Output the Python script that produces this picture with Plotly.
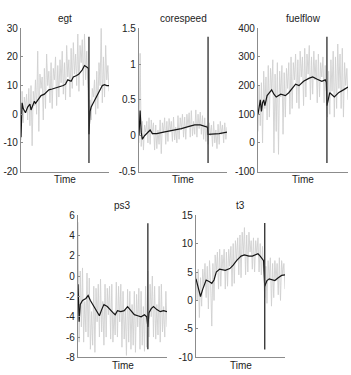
import plotly.graph_objects as go

# ---------------- data ----------------
time_idx = list(range(80))

egt_raw = [-9, 8, -3, 6, 2, 7, -2, 9, -4, 10, -11, 8, 3, 12, 0, 22, -6, 14, 9, 13,
           -2, 16, 2, 21, 10, 15, 4, 18, 2, 16, 12, 20, 3, 17, 6, 19, 11, 22, 7, 18,
           5, 24, 13, 19, 6, 23, 9, 25, 14, 21, 10, 28, 8, 24, 18, 26, 10, 28, 12, 22,
           9, -7, 5, -2, 9, 6, 12, 0, 15, 2, 18, 10, 30, 4, 20, 6, 24, 12, 17, 8]
egt_smooth_x = [0, 1, 2, 4, 6, 8, 9, 12, 13, 15, 18, 21, 25, 28, 30, 34, 38, 40, 42, 45,
                47, 50, 52, 55, 57, 59, 60.5, 61, 62, 63, 65, 67, 68, 71, 73, 75, 77, 79]
egt_smooth = [-8, 4, 2, 0.5, 2.5, 3.5, 1.5, 4.5, 3.8, 5, 6.5, 7, 8.5, 8.8, 9, 9.5, 10, 10.5, 12, 11.5,
              13, 13.5, 14, 15.5, 17, 16.5, 16, -7, 1, 2.5, 4, 5, 6, 8, 10, 10.3, 10, 10]

cs_raw = [-0.1, 1.15, -0.15, 0.2, -0.2, 0.15, 0.05, 0.2, -0.1, 0.25,
          -0.12, 0.22, 0.02, 0.18, -0.2, 0.15, -0.18, 0.08, -0.12, 0.22,
          -0.25, 0.18, 0.04, 0.25, -0.12, 0.2, -0.08, 0.24, 0.06, 0.2,
          -0.08, 0.26, -0.06, 0.12, -0.1, 0.28, -0.05, 0.25, 0.08, 0.3,
          -0.02, 0.26, -0.05, 0.3, 0.12, 0.32, -0.02, 0.35, 0.0, 0.2,
          0.02, 0.36, -0.02, 0.3, 0.1, 0.33, 0.02, 0.28, -0.05, 0.25,
          -0.08, 0.15, -0.12, 0.18, 0.0, 0.15, -0.15, 0.2, -0.1, 0.08,
          -0.18, 0.16, -0.12, 0.2, 0.02, 0.15, -0.1, 0.18, -0.05, 0.12]
cs_smooth_x = [0, 1, 2, 3, 5, 8, 10, 12, 16, 22, 30, 38, 45, 50, 55, 58, 61.5, 62, 66, 72, 79]
cs_smooth = [0, 0.35, 0.05, -0.05, 0.0, 0.04, 0.08, 0.03, 0.03, 0.05, 0.07, 0.1, 0.13, 0.15, 0.15,
             0.14, 0.12, 0.02, 0.02, 0.03, 0.05]

ff_raw = [40, 200, 60, 210, 0, 250, 120, 230, 80, 270, 90, 260, 180, 290, -35, 240, 40, 280, -40, 250,
          160, 270, 30, 245, 90, 260, 190, 280, 100, 300, 120, 280, 220, 310, 140, 290, 120, 320, 230, 300,
          130, 330, 160, 310, 240, 340, 150, 300, 170, 320, 220, 290, 140, 310, 160, 280, 230, 300, 140, 270,
          150, 90, 250, 100, 290, 180, 320, 90, 300, 120, 345, 190, 310, 120, 330, 90, 280, 200, 260, 150]
ff_smooth_x = [0, 1, 2, 3, 4, 5, 6, 8, 10, 12, 14, 16, 20, 24, 27, 30, 33, 36, 40, 45,
               48, 52, 56, 59, 60, 60.5, 63, 67, 71, 75, 79]
ff_smooth = [100, 130, 150, 110, 140, 150, 130, 165, 175, 185, 170, 160, 170, 165, 175, 190, 205, 200, 215, 226,
             230, 222, 215, 220, 212, 130, 175, 160, 176, 185, 195]

ps3_raw = [5.3, -6.5, 0.5, -5, 0.8, -6.5, -2.5, -5.5, 0.3, -6,
           -0.2, -7.2, -3.5, -6.8, -1, -7.5, -1.2, -4.5, -0.8, -6,
           -0.3, -5.5, -2.5, -6.8, -0.8, -6, -1.2, -3.8, -1, -6.2,
           -0.8, -6.5, -3.5, -5.8, -0.6, -6, -1, -4.5, -0.8, -7,
           -1.5, -6.2, -3.2, -7.8, -1.3, -6.5, -1.5, -7.2, -2.8, -6.8,
           -1.5, -7.5, -1.8, -5.0, -1.2, -7.2, -1.5, -6.8, -3.0, -7.4,
           -1, -7, 0.5, -6, -0.8, -4.0, 0, -6, -1, -6.2,
           -2.8, -5.8, -1, -6.5, -0.8, -5.5, -3.0, -6, -1.5, -5]
ps3_smooth_x = [0, 1, 2, 4, 7, 9, 11, 14, 17, 19, 21, 23, 26, 29, 31, 33, 35, 38, 41, 44,
                47, 50, 53, 56, 59, 61, 62, 63, 65, 67, 70, 73, 76, 79]
ps3_smooth = [-0.8, -4.5, -2.8, -2.4, -2.2, -1.9, -2.4, -3.0, -3.6, -3.9, -3.3, -2.8, -3.0, -3.4, -3.6, -3.8,
              -3.4, -3.5, -3.4, -3.0, -3.4, -3.8, -3.9, -4.0, -3.8, -4.0, -5.0, -3.6, -3.2, -3.0, -3.3,
              -3.5, -3.4, -3.5]

t3_raw = [5, 0, 5.5, -3, 4, -1, 5.5, 2.5, 6.5, 0.5,
          6, -1.5, 7, 3, -4.5, 6.5, 0, 8, 5, 8.5,
          2, 9, 2.5, 8, 5.5, 9, 2, 8.5, 2.5, 9,
          6, 9.5, 2.5, 10, 3, 10.5, 7, 11, 4.5, 11.5,
          4, 12, 8, 12.8, 4.5, 11.5, 5, 12, 8.5, 10.5,
          5.5, 11, 5, 10.5, 8, 11, 5, 10, 4.5, 9.5,
          5, 0.5, 6, -0.5, 7, 3.5, 7.5, -1, 6.5, 0.5,
          7, 3.5, 6.5, 1, 7.5, 0, 7, 4.5, 6.5, 2]
t3_smooth_x = [0, 1, 3, 4, 6, 8, 9, 12, 14, 16, 18, 21, 26, 30, 33, 36, 40, 43, 47, 50,
               53, 55, 57, 60, 61, 63, 65, 68, 70, 73, 76, 79]
t3_smooth = [3.8, 3, 1, 0.7, 2, 3.3, 3.6, 3.3, 3.0, 3.6, 5.0, 5.5, 5.3, 5.6, 6.2, 7.0, 7.8, 8.0, 7.8, 7.8,
             8.0, 8.2, 7.8, 7.0, 2.5, 3.5, 3.8, 3.7, 3.5, 4.0, 4.4, 4.5]

titles = ["egt", "corespeed", "fuelflow", "ps3", "t3"]
change_x = [61, 62, 60.5, 62, 61]
change_lo = [-17, -0.38, -70, -7.2, -8.6]
change_hi = [27, 1.38, 370, 5.2, 13.6]
y_ranges = [[-20, 30], [-0.5, 1.5], [-100, 400], [-8, 6], [-10, 15]]
y_ticks = [[-20, -10, 0, 10, 20, 30], [-0.5, 0, 0.5, 1, 1.5], [-100, 0, 100, 200, 300, 400],
           [-8, -6, -4, -2, 0, 2, 4, 6], [-10, -5, 0, 5, 10, 15]]
y_ticklabels = [["-20", "-10", "0", "10", "20", "30"], ["-0.5", "0", "0.5", "1", "1.5"],
                ["-100", "0", "100", "200", "300", "400"],
                ["-8", "-6", "-4", "-2", "0", "2", "4", "6"], ["-10", "-5", "0", "5", "10", "15"]]

raws = [egt_raw, cs_raw, ff_raw, ps3_raw, t3_raw]
smooth_xs = [egt_smooth_x, cs_smooth_x, ff_smooth_x, ps3_smooth_x, t3_smooth_x]
smooths = [egt_smooth, cs_smooth, ff_smooth, ps3_smooth, t3_smooth]

# ---------------- layout (pixel boxes) ----------------
W, H = 351, 375
boxes = [(21, 109, 23, 171), (139, 227, 23, 171), (258, 348, 23, 171),
         (78, 167, 216, 363), (196, 285, 216, 363)]

FONT = "Liberation Sans, Arial, Helvetica, sans-serif"
fig = go.Figure()
layout = dict(width=W, height=H, margin=dict(l=0, r=0, t=0, b=0),
              paper_bgcolor="white", plot_bgcolor="white", showlegend=False,
              font=dict(family=FONT, size=10, color="#222"))
annotations = []

for i in range(5):
    n = "" if i == 0 else str(i + 1)
    xa, ya = "x" + n, "y" + n
    fig.add_trace(go.Scatter(x=time_idx, y=raws[i], mode="lines", xaxis=xa, yaxis=ya,
                             line=dict(color="#d0d0d0", width=0.9)))
    fig.add_trace(go.Scatter(x=smooth_xs[i], y=smooths[i], mode="lines", xaxis=xa, yaxis=ya,
                             line=dict(color="#151515", width=1.2)))
    fig.add_trace(go.Scatter(x=[change_x[i], change_x[i]], y=[change_lo[i], change_hi[i]], mode="lines",
                             xaxis=xa, yaxis=ya, line=dict(color="#3a3a3a", width=1.4)))
    x0, x1, y0, y1 = boxes[i]
    layout["xaxis" + n] = dict(domain=[x0 / W, x1 / W], range=[0, 79], showticklabels=False,
                               ticks="", showgrid=False, zeroline=False, showline=True,
                               linecolor="#8c8c8c", linewidth=1.2, anchor=ya, fixedrange=True)
    layout["yaxis" + n] = dict(domain=[1 - y1 / H, 1 - y0 / H], range=y_ranges[i],
                               tickvals=y_ticks[i], ticktext=y_ticklabels[i],
                               ticks="inside", ticklen=2, tickcolor="#8c8c8c",
                               showgrid=False, zeroline=False, showline=True,
                               linecolor="#8c8c8c", linewidth=1.2, anchor=xa,
                               tickfont=dict(size=10, color="#222"), fixedrange=True)
    cx = (x0 + x1) / 2 / W
    annotations.append(dict(text=titles[i], x=cx, y=1 - (y0 - 10) / H, xref="paper", yref="paper",
                            showarrow=False, xanchor="center", yanchor="middle",
                            font=dict(size=10, color="#222")))
    annotations.append(dict(text="Time", x=cx, y=1 - (y1 + 8) / H, xref="paper", yref="paper",
                            showarrow=False, xanchor="center", yanchor="middle",
                            font=dict(size=10, color="#222")))

layout["annotations"] = annotations
fig.update_layout(**layout)
fig.write_html("out.html")
